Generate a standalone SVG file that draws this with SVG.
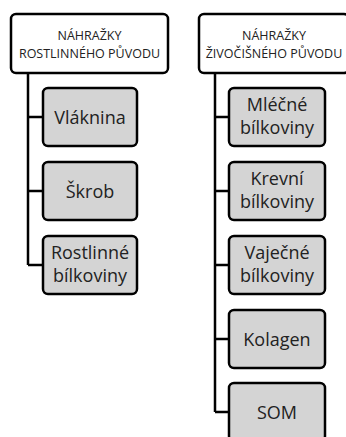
<svg xmlns="http://www.w3.org/2000/svg" width="346" height="437" viewBox="0 0 346 437">
<style>
.hdr{fill:#fff;stroke:#000;stroke-width:2.5}
.box{fill:#d4d4d4;stroke:#000;stroke-width:2.5}
.ht{font-family:"Open Sans",Lato,sans-serif;font-size:12.5px;fill:#222;text-anchor:middle}
.bt{font-family:"Open Sans",Lato,sans-serif;font-size:18px;fill:#222;text-anchor:middle}
.con{fill:none;stroke:#000;stroke-width:2.5}
</style>
<rect width="346" height="437" fill="#fff"/>
<g id="connectors">
<path class="con" d="M28 73V265M28 117H43M28 191H43M28 265H43"/>
<path class="con" d="M215 73V412M215 117H229M215 191H229M215 265H229M215 339H229M215 412H229"/>
</g>
<g id="hdr-left">
<rect class="hdr" x="11" y="14" width="157" height="59" rx="5"/>
<text class="ht" x="89.5" y="40">NÁHRAŽKY</text>
<text class="ht" x="89.5" y="58">ROSTLINNÉHO PŮVODU</text>
</g>
<g id="hdr-right">
<rect class="hdr" x="199" y="14" width="150" height="59" rx="5"/>
<text class="ht" x="274" y="40">NÁHRAŽKY</text>
<text class="ht" x="274" y="58">ŽIVOČIŠNÉHO PŮVODU</text>
</g>
<g id="vlaknina">
<rect class="box" x="43" y="88" width="94" height="58" rx="5"/>
<text class="bt" x="90" y="123.5">Vláknina</text>
</g>
<g id="skrob">
<rect class="box" x="43" y="162" width="94" height="58" rx="5"/>
<text class="bt" x="90" y="197.5">Škrob</text>
</g>
<g id="rostlinne">
<rect class="box" x="43" y="236" width="94" height="58" rx="5"/>
<text class="bt" x="90" y="259">Rostlinné</text>
<text class="bt" x="90" y="282">bílkoviny</text>
</g>
<g id="mlecne">
<rect class="box" x="229" y="88" width="96" height="58" rx="5"/>
<text class="bt" x="277" y="111">Mléčné</text>
<text class="bt" x="277" y="134">bílkoviny</text>
</g>
<g id="krevni">
<rect class="box" x="229" y="162" width="96" height="58" rx="5"/>
<text class="bt" x="277" y="185">Krevní</text>
<text class="bt" x="277" y="208">bílkoviny</text>
</g>
<g id="vajecne">
<rect class="box" x="229" y="236" width="96" height="58" rx="5"/>
<text class="bt" x="277" y="259">Vaječné</text>
<text class="bt" x="277" y="282">bílkoviny</text>
</g>
<g id="kolagen">
<rect class="box" x="229" y="310" width="96" height="58" rx="5"/>
<text class="bt" x="277" y="345.5">Kolagen</text>
</g>
<g id="som">
<rect class="box" x="229" y="383" width="96" height="58" rx="5"/>
<text class="bt" x="277" y="418.5">SOM</text>
</g>
</svg>
